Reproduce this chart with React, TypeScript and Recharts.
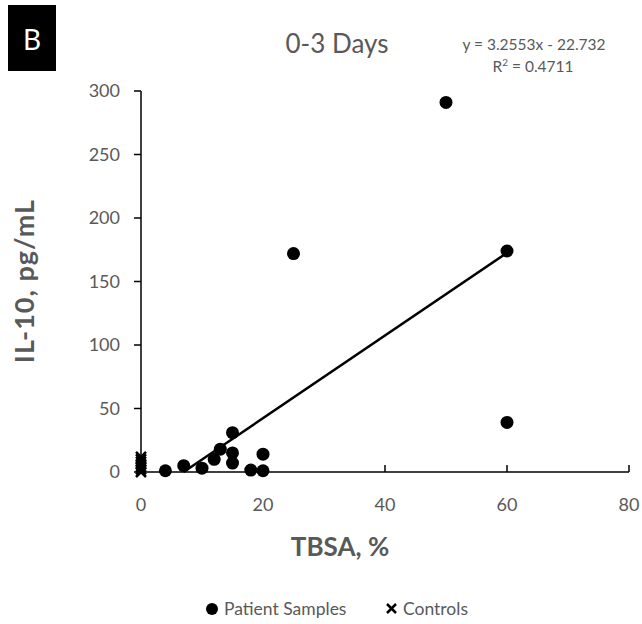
import React from 'react';
import { ScatterChart, Scatter, XAxis, YAxis, Customized } from 'recharts';

// ---- data ----
const patientTBSA = [4, 7, 10, 12, 13, 15, 15, 15, 18, 20, 20, 25, 50, 60, 60];
const patientIL10 = [1, 5, 3, 10, 18, 31, 15, 7, 1.5, 14, 1, 172, 291, 174, 39];
const controlTBSA = [0, 0, 0, 0, 0, 0, 0];
const controlIL10 = [0, 2, 4, 6, 8, 10, 12];
const trendSlope = 3.2553;
const trendIntercept = -22.732;
const trendXMax = 60;
const xTicks = [0, 20, 40, 60, 80];
const yTicks = [0, 50, 100, 150, 200, 250, 300];

const titleText = '0-3 Days';
const equationText = 'y = 3.2553x - 22.732';
const r2Value = '0.4711';
const panelLetter = 'B';
const xLabel = 'TBSA, %';
const yLabel = 'IL-10, pg/mL';
const patientName = 'Patient Samples';
const controlName = 'Controls';

const patients = patientTBSA.map((x, i) => ({ x, y: patientIL10[i] }));
const controls = controlTBSA.map((x, i) => ({ x, y: controlIL10[i] }));
const trendStart = -trendIntercept / trendSlope; // where trendline meets y = 0 axis
const trend = [
  { x: trendStart, y: trendSlope * trendStart + trendIntercept },
  { x: trendXMax, y: trendSlope * trendXMax + trendIntercept },
];

const FONT = 'Lato, "Open Sans", sans-serif';
const GREY = '#595959';

const Dot = (props: any) => <circle cx={props.cx} cy={props.cy} r={6.5} fill="#000" />;
const Cross = (props: any) => {
  const { cx, cy } = props;
  const s = 5;
  return (
    <path
      d={`M${cx - s},${cy - s}L${cx + s},${cy + s}M${cx - s},${cy + s}L${cx + s},${cy - s}`}
      stroke="#000"
      strokeWidth={2.5}
      fill="none"
    />
  );
};
const NoShape = () => <g />;

const Decorations = () => (
  <g fontFamily={FONT}>
    <rect x={8} y={5} width={48} height={66} fill="#000" />
    <text x={32} y={50} fill="#fff" fontSize={28} textAnchor="middle">{panelLetter}</text>
    <text x={337} y={53} fill={GREY} fontSize={26} textAnchor="middle">{titleText}</text>
    <text x={534} y={50} fill={GREY} fontSize={15.5} textAnchor="middle">{equationText}</text>
    <text x={533} y={72} fill={GREY} fontSize={15.5} textAnchor="middle">
      R<tspan dy={-6} fontSize={10}>2</tspan><tspan dy={6}>{' = ' + r2Value}</tspan>
    </text>
    <text x={340} y={556} fill={GREY} fontSize={26} fontWeight="bold" textAnchor="middle">{xLabel}</text>
    <text
      x={0}
      y={0}
      transform="translate(34,281) rotate(-90)"
      fill={GREY}
      fontSize={27}
      fontWeight="bold"
      textAnchor="middle"
      letterSpacing={1}
    >
      {yLabel}
    </text>
    <g>
      <circle cx={212} cy={609} r={6} fill="#000" />
      <text x={224} y={615} fill={GREY} fontSize={17.5}>{patientName}</text>
      <path d="M387,604L396,613M387,613L396,604" stroke="#000" strokeWidth={2.5} />
      <text x={403} y={615} fill={GREY} fontSize={17.5}>{controlName}</text>
    </g>
  </g>
);

export default function App() {
  return (
    <div style={{ position: 'absolute', left: 0, top: 0, width: 642, height: 624, background: '#fff' }}>
      <ScatterChart
        width={642}
        height={624}
        margin={{ top: 91, right: 13, bottom: 112, left: 81 }}
        style={{ fontFamily: FONT }}
      >
        <XAxis
          type="number"
          dataKey="x"
          domain={[0, 80]}
          ticks={xTicks}
          height={40}
          axisLine={{ stroke: '#000', strokeWidth: 1.5 }}
          tickLine={{ stroke: '#000', strokeWidth: 1.5 }}
          tickSize={-7}
          tickMargin={33}
          tick={{ fill: GREY, fontSize: 18, fontFamily: FONT }}
        />
        <YAxis
          type="number"
          dataKey="y"
          domain={[0, 300]}
          ticks={yTicks}
          width={60}
          axisLine={{ stroke: '#000', strokeWidth: 1.5 }}
          tickLine={{ stroke: '#000', strokeWidth: 1.5 }}
          tickSize={7}
          tickMargin={14}
          tick={{ fill: GREY, fontSize: 18, fontFamily: FONT }}
        />
        <Scatter
          name="trend"
          data={trend}
          line={{ stroke: '#000', strokeWidth: 2.5 }}
          shape={NoShape}
          legendType="none"
          isAnimationActive={false}
        />
        <Scatter name={patientName} data={patients} shape={Dot} isAnimationActive={false} />
        <Scatter name={controlName} data={controls} shape={Cross} isAnimationActive={false} />
        <Customized component={Decorations} />
      </ScatterChart>
    </div>
  );
}
